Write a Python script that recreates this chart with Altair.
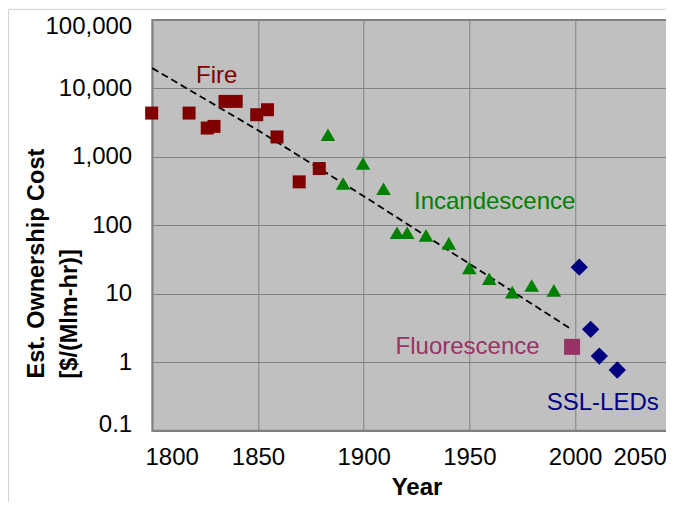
import altair as alt
import pandas as pd

# ---- data ----
fire_year = [1799.7, 1817.4, 1826.0, 1829.2, 1834.4, 1839.7, 1849.4, 1854.5, 1859.0, 1869.5, 1879.0]
fire_cost = [4370, 4370, 2640, 2790, 6470, 6470, 4130, 4890, 1955, 432, 676]

inc_year = [1883.1, 1890.3, 1899.7, 1909.4, 1915.8, 1920.6, 1929.5, 1940.3,
            1950.0, 1959.4, 1970.3, 1979.5, 1990.0]
inc_cost = [2110, 408, 800, 342, 78, 78, 71.5, 54.6, 23.9, 16.6, 10.6, 13.2, 11.2]

flu_year = [1998.6]
flu_cost = [1.68]

led_year = [2002.0, 2007.4, 2011.5, 2020.0]
led_cost = [24.5, 3.03, 1.23, 0.77]

trend_year = [1800, 1850, 1900, 1950, 1997.6]
trend_cost = [19800, 2450, 267, 27.5, 3.13]

series = ["Fire", "Incandescence", "Fluorescence", "SSL-LEDs"]
label_year = [1820.7, 1923.8, 1915.1, 1986.6]
label_cost = [11970, 171, 1.32, 0.2]

x_ticks = [1800, 1850, 1900, 1950, 2000, 2050]
y_ticks = [0.1, 1, 10, 100, 1000, 10000, 100000]

# ---- styles ----
colors = ["#800000", "#008000", "#993366", "#000080"]
shapes = ["square", "triangle-up", "square", "diamond"]
sizes = [169, 300, 256, 256]
FONT = "Liberation Sans"

points = pd.concat([
    pd.DataFrame({"year": fire_year, "cost": fire_cost, "series": "Fire"}),
    pd.DataFrame({"year": inc_year, "cost": inc_cost, "series": "Incandescence"}),
    pd.DataFrame({"year": flu_year, "cost": flu_cost, "series": "Fluorescence"}),
    pd.DataFrame({"year": led_year, "cost": led_cost, "series": "SSL-LEDs"}),
], ignore_index=True)
trend = pd.DataFrame({"year": trend_year, "cost": trend_cost})
labels = pd.DataFrame({"year": label_year, "cost": label_cost, "series": series})

x_axis = alt.Axis(
    values=x_ticks, format="d", grid=True, gridColor="#808080", gridWidth=1,
    ticks=False, tickSize=0, domain=False, labelFlush=False, labelOverlap=False,
    labelFontSize=24, labelColor="black", labelPadding=14.5,
    labelOffset={"condition": [{"test": "datum.value == 1800", "value": 19.4},
                               {"test": "datum.value == 2050", "value": -41}],
                 "value": 0},
    title="Year", titleFontSize=24, titleFontWeight="bold", titleColor="black",
    titleBaseline="alphabetic", titleY=64,
)
y_axis = alt.Axis(
    values=y_ticks, format=",", grid=True, gridColor="#808080", gridWidth=1,
    ticks=False, tickSize=0, domain=False, labelOverlap=False,
    labelFontSize=24, labelColor="black", labelPadding=20.6,
    labelOffset={"condition": [{"test": "datum.value > 50000", "value": 6.7},
                               {"test": "datum.value < 0.5", "value": -6}],
                 "value": 0},
    title=["Est. Ownership Cost", "[$/(Mlm-hr)]"], titleFontSize=23.5,
    titleFontWeight="bold", titleColor="black", titleAngle=270, titleAlign="left",
    titleBaseline="alphabetic", titleX=-109.3, titleY=358, titleLineHeight=33,
)

x_enc = alt.X("year:Q", scale=alt.Scale(domain=[1800, 2050], nice=False, zero=False), axis=x_axis)
y_enc = alt.Y("cost:Q", scale=alt.Scale(type="log", domain=[0.1, 100000], nice=False), axis=y_axis)
color_enc = alt.Color("series:N", scale=alt.Scale(domain=series, range=colors), legend=None)

trend_layer = alt.Chart(trend).mark_line(color="black", strokeDash=[7, 4], strokeWidth=1.8).encode(
    x=x_enc, y=y_enc)

point_layer = alt.Chart(points).mark_point(filled=True, opacity=1, strokeWidth=0).encode(
    x=x_enc, y=y_enc, color=color_enc,
    shape=alt.Shape("series:N", scale=alt.Scale(domain=series, range=shapes), legend=None),
    size=alt.Size("series:N", scale=alt.Scale(domain=series, range=sizes), legend=None),
)

text_layer = alt.Chart(labels).mark_text(align="left", baseline="alphabetic", fontSize=24, font=FONT).encode(
    x=x_enc, y=y_enc, text="series:N", color=color_enc)

frame_df = pd.DataFrame({"k": [0]})
frame_top = alt.Chart(frame_df).mark_rule(color="#D0D0D0", strokeWidth=1).encode(
    x=alt.value(-143.7), x2=alt.value(560), y=alt.value(-10.7))
frame_left = alt.Chart(frame_df).mark_rule(color="#D0D0D0", strokeWidth=1).encode(
    x=alt.value(-143.7), y=alt.value(-10.7), y2=alt.value(520))

# plot area runs past the right edge of the page (as in the reference): negative right padding clips it
chart = alt.layer(trend_layer, point_layer, text_layer, frame_top, frame_left).properties(
    width=528.4, height=410.7,
    autosize=alt.AutoSizeParams(type="none"),
    padding={"left": 144.3, "top": 12, "right": -14.7, "bottom": 71.3},
    background="white",
).configure(font=FONT).configure_view(fill="#C0C0C0", stroke="#808080", strokeWidth=2)

chart.save("out.html", embed_options={"renderer": "svg", "actions": False})
